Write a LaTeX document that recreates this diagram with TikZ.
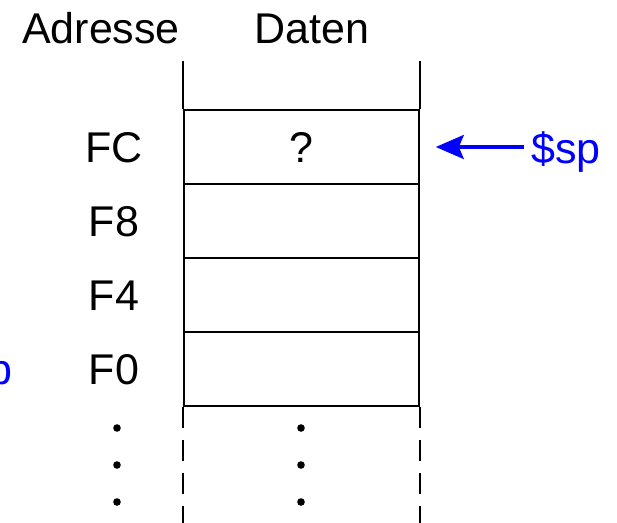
\documentclass[tikz,border=0pt]{standalone}
\usepackage{fontspec}
\setmainfont{Liberation Sans}
\usetikzlibrary{arrows.meta, positioning}

\begin{document}
\begin{tikzpicture}[x=1pt, y=-1pt,
    txt/.style={font=\fontsize{43}{50}\selectfont, inner sep=0pt},
    cell/.style={txt, draw, line width=1.6pt, minimum width=235pt, minimum height=74pt},
    wall/.style={line width=1.6pt},
    gap/.style={line width=1.6pt, dash pattern=on 21pt off 12pt},
    ptr/.style={blue, line width=3.5pt, -{Stealth[length=28pt, width=24pt, inset=5pt]}}]
    \useasboundingbox (0,0) rectangle (617,522);

    \node[txt, anchor=base] (adresse) at (101,43) {Adresse};
    \node[txt, anchor=base] (daten) at (312,43) {Daten};

    % stack cells with their addresses
    \foreach \adr/\val [count=\i] in {FC/?, F8/, F4/, F0/} {
        \node[cell] (c\i) at (301.5,73+74*\i) {\val};
        \node[txt, anchor=base] (a\i) at (114,88.5+74*\i) {\adr};
    }

    \draw[wall] (c1.north west) -- ++(0,-48);
    \draw[wall] (c1.north east) -- ++(0,-48);
    \draw[gap] (c4.south west) -- ++(0,116);
    \draw[gap] (c4.south east) -- ++(0,116);

    \foreach \y in {428,465,502} {
        \fill (117,\y) circle (3.8pt);
        \fill (301,\y) circle (3.8pt);
    }

    \node[txt, blue, anchor=base west] (sp) at (531,163) {\$sp};
    \node[txt, blue, anchor=base east] (fp) at (13,384.5) {\$fp};
    \draw[ptr, shorten <=7pt, shorten >=16pt] (sp.west |- c1.east) -- (c1.east);
\end{tikzpicture}
\end{document}
